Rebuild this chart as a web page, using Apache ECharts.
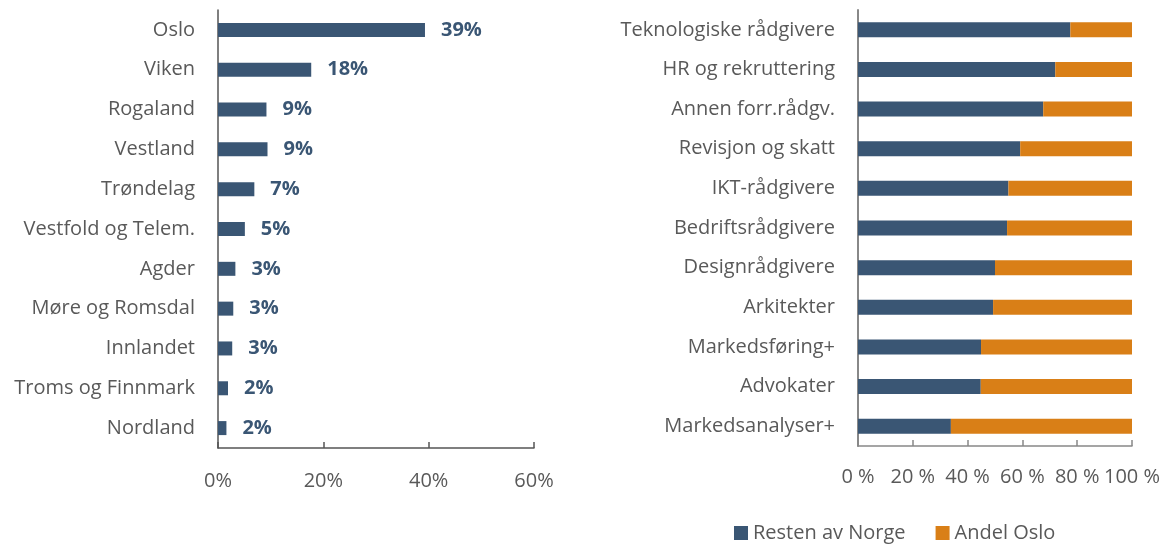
<!DOCTYPE html>
<html>
<head>
<meta charset="utf-8">
<script src="https://cdn.jsdelivr.net/npm/echarts@6/dist/echarts.min.js"></script>
<style>
  html, body { margin: 0; padding: 0; background: #fff; }
  #chart { width: 1168px; height: 545px; }
</style>
</head>
<body>
<div id="chart"></div>
<script>
// venstre: andel per region
var regioner = ['Oslo', 'Viken', 'Rogaland', 'Vestland', 'Trøndelag', 'Vestfold og Telem.',
	'Agder', 'Møre og Romsdal', 'Innlandet', 'Troms og Finnmark', 'Nordland'];
var regionAndel = [39.3, 17.7, 9.2, 9.4, 6.9, 5.1, 3.3, 2.9, 2.7, 1.9, 1.6];
var regionTicks = [0, 20, 40, 60];

// høyre: bransjer, Oslo mot resten
var bransjer = ['Teknologiske rådgivere', 'HR og rekruttering', 'Annen forr.rådgv.',
	'Revisjon og skatt', 'IKT-rådgivere', 'Bedriftsrådgivere', 'Designrådgivere',
	'Arkitekter', 'Markedsføring+', 'Advokater', 'Markedsanalyser+'];
var restenAvNorge = [77.5, 72.0, 67.6, 59.2, 54.9, 54.4, 50.0, 49.3, 44.9, 44.8, 33.9];
var andelOslo = [22.5, 28.0, 32.4, 40.8, 45.1, 45.6, 50.0, 50.7, 55.1, 55.2, 66.1];
var bransjeTicks = [0, 20, 40, 60, 80, 100];

var blaa = '#3a5674';
var oransje = '#d97f17';
var tekst = '#595959';
var font = 'Open Sans';

var myChart = echarts.init(document.getElementById('chart'));

var option = {
	animation: false,
	textStyle: { fontFamily: font },
	legend: {
		top: 518,
		left: 729,
		itemWidth: 14,
		itemHeight: 14,
		itemGap: 30,
		icon: 'rect',
		textStyle: { fontSize: 20, color: tekst, fontFamily: font },
		data: ['Resten av Norge', 'Andel Oslo']
	},
	grid: [
		{ left: 218, right: 634, top: 10, bottom: 97 },
		{ left: 858, right: 36, top: 10, bottom: 99 }
	],
	xAxis: [{
		gridIndex: 0, type: 'value', min: regionTicks[0], max: regionTicks[regionTicks.length - 1], interval: 20,
		splitLine: { show: false },
		axisLine: { show: true, lineStyle: { color: '#555', width: 1.5 } },
		axisTick: { show: true, inside: true, length: 6, lineStyle: { color: '#555', width: 1.5 } },
		axisLabel: { fontSize: 20, color: tekst, margin: 23, formatter: '{value}%' }
	}, {
		gridIndex: 1, type: 'value', min: bransjeTicks[0], max: bransjeTicks[bransjeTicks.length - 1], interval: 20,
		splitLine: { show: false },
		axisLine: { show: true, lineStyle: { color: '#888', width: 1.5 } },
		axisTick: { show: true, inside: true, length: 6, lineStyle: { color: '#888', width: 1.5 } },
		axisLabel: { fontSize: 20, color: tekst, margin: 21, formatter: '{value} %' }
	}],
	yAxis: [{
		gridIndex: 0, type: 'category', inverse: true, data: regioner,
		axisLine: { show: true, lineStyle: { color: '#555', width: 1.5 } },
		axisTick: { show: false },
		axisLabel: { fontSize: 20, color: tekst, margin: 23 }
	}, {
		gridIndex: 1, type: 'category', inverse: true, data: bransjer,
		axisLine: { show: true, lineStyle: { color: '#888', width: 2 } },
		axisTick: { show: false },
		axisLabel: { fontSize: 20, color: tekst, margin: 23 }
	}],
	series: [{
		type: 'bar', xAxisIndex: 0, yAxisIndex: 0, data: regionAndel,
		barWidth: 14,
		itemStyle: { color: blaa },
		label: {
			show: true, position: 'right', distance: 16,
			fontSize: 20, fontWeight: 'bold', color: blaa,
			formatter: function (p) { return Math.round(p.value) + '%'; }
		}
	}, {
		name: 'Resten av Norge', type: 'bar', stack: 'b', xAxisIndex: 1, yAxisIndex: 1,
		data: restenAvNorge, barWidth: 15,
		itemStyle: { color: blaa }
	}, {
		name: 'Andel Oslo', type: 'bar', stack: 'b', xAxisIndex: 1, yAxisIndex: 1,
		data: andelOslo, barWidth: 15,
		itemStyle: { color: oransje }
	}]
};

myChart.setOption(option);
</script>
</body>
</html>
